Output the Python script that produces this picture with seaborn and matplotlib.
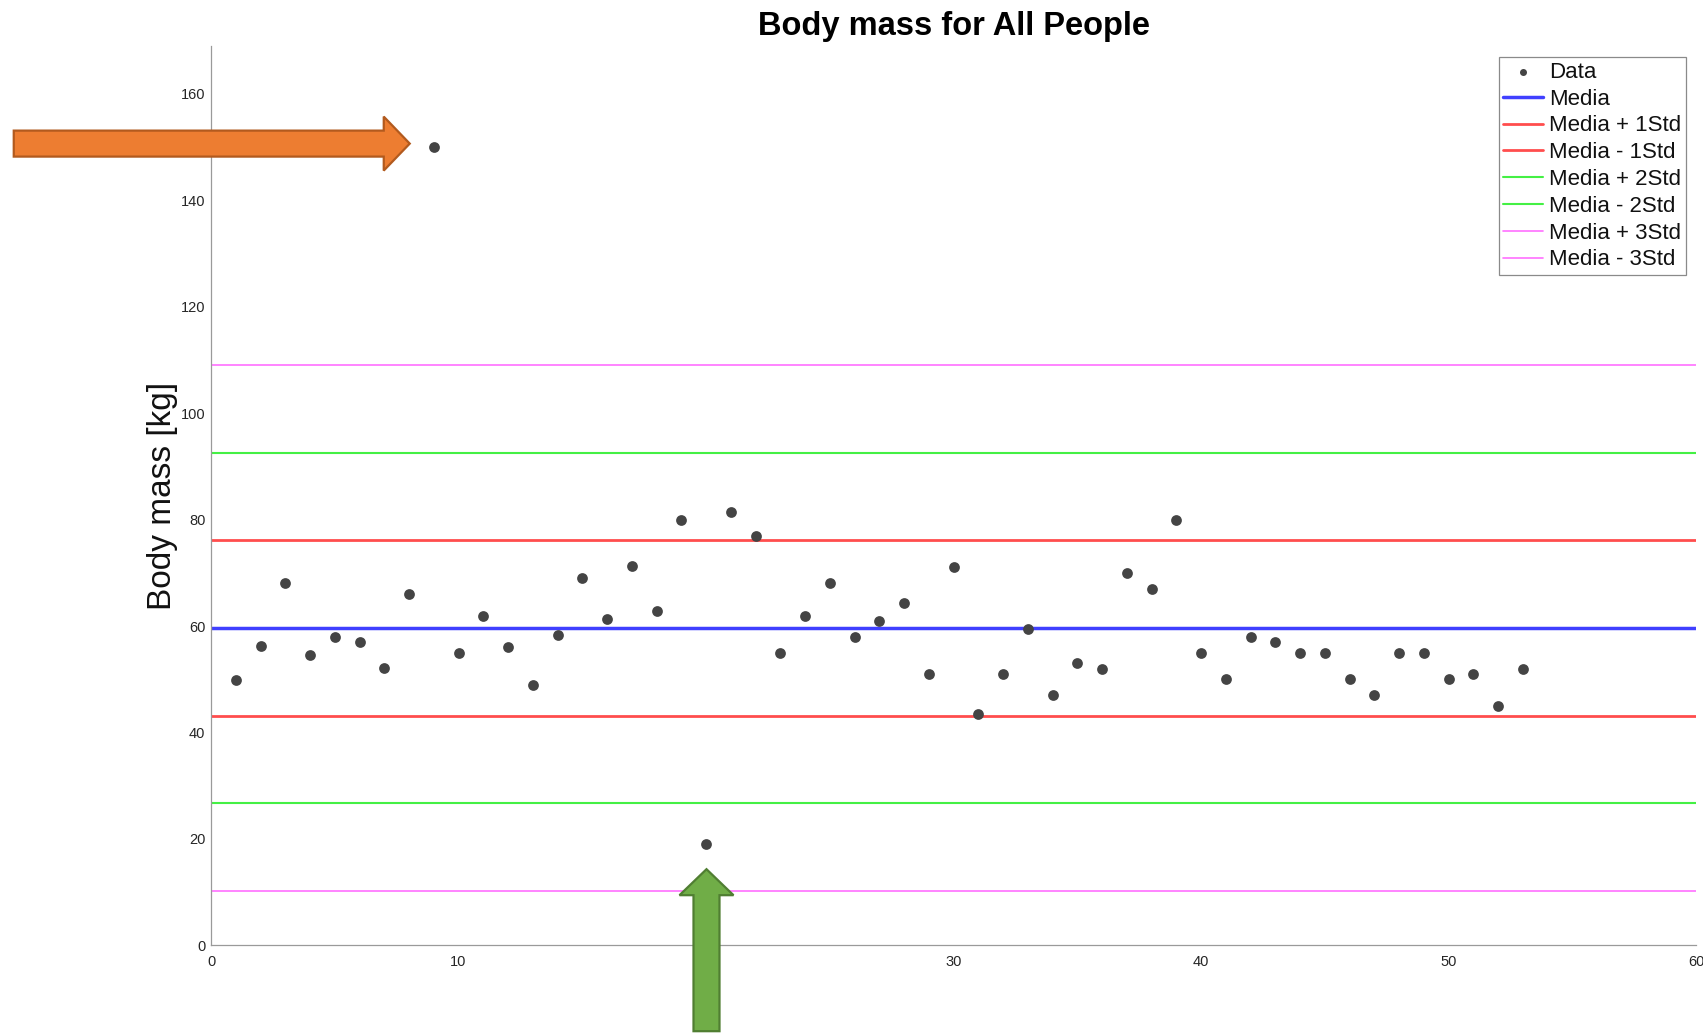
import numpy as np
import pandas as pd
import matplotlib
matplotlib.use("Agg")
import matplotlib.pyplot as plt
import seaborn as sns
from matplotlib.patches import Polygon
from matplotlib.transforms import IdentityTransform

# Body mass of each person, in the order they were measured
person = list(range(1, 54))
body_mass = [49.8, 56.3, 68.0, 54.5, 57.9, 57.0, 52.1, 66.0, 150.0, 55.0,
             61.9, 56.0, 48.9, 58.3, 69.0, 61.3, 71.2, 62.9, 80.0, 19.0,
             81.5, 76.9, 55.0, 61.9, 68.0, 57.9, 60.9, 64.4, 50.9, 71.1,
             43.5, 51.0, 59.5, 47.0, 53.1, 51.9, 70.0, 67.0, 80.0, 55.0,
             50.0, 58.0, 57.0, 55.0, 55.0, 50.0, 47.0, 55.0, 55.0, 50.0,
             51.0, 45.0, 51.9]

x_ticks = [0, 10, 20, 30, 40, 50, 60]
y_ticks = [0, 20, 40, 60, 80, 100, 120, 140, 160]
x_limits = (0, 60)
y_limits = (0, 169)

df = pd.DataFrame({"person": person, "mass": body_mass})
media = df["mass"].mean()
std = df["mass"].std(ddof=1)

# Reference lines: (label, number of std, colour, width)
bands = [
    ("Media", 0, "#4040ff", 2.5),
    ("Media + 1Std", 1, "#ff4d4d", 2.0),
    ("Media - 1Std", -1, "#ff4d4d", 2.0),
    ("Media + 2Std", 2, "#44f044", 1.5),
    ("Media - 2Std", -2, "#44f044", 1.5),
    ("Media + 3Std", 3, "#ff70ff", 1.2),
    ("Media - 3Std", -3, "#ff70ff", 1.2),
]

sns.set_style("white")
plt.rcParams["font.family"] = ["Liberation Sans", "DejaVu Sans"]

W, H = 1703, 1033
fig = plt.figure(figsize=(W / 100, H / 100), dpi=100)
ax = fig.add_axes([211 / W, 1 - 945.3 / H, (1696 - 211) / W, (945.3 - 46) / H])

sns.scatterplot(data=df, x="person", y="mass", ax=ax, color="#444444",
                s=60, linewidth=0, label="Data", zorder=3)
for label, k, color, lw in bands:
    ax.axhline(media + k * std, color=color, lw=lw, label=label, zorder=2)

ax.set_xlim(*x_limits)
ax.set_ylim(*y_limits)
ax.set_xticks(x_ticks)
ax.set_yticks(y_ticks)
ax.set_xlabel("")
ax.set_ylabel("Body mass [kg]", fontsize=24, color="#111111")
ax.yaxis.set_label_coords(-0.022, 0.5)
ax.set_title("Body mass for All People", fontsize=23.5, fontweight="bold",
             pad=8.2, color="black")

for side in ("top", "right"):
    ax.spines[side].set_visible(False)
for side in ("left", "bottom"):
    ax.spines[side].set_color("#9a9a9a")
    ax.spines[side].set_linewidth(0.9)

ax.tick_params(axis="both", direction="in", length=11, width=0.8,
               color="#8c8c8c", labelsize=10.5, labelcolor="#262626")
ax.tick_params(axis="y", pad=4)
ax.tick_params(axis="x", pad=7)

handles, labels = ax.get_legend_handles_labels()
leg = ax.legend(handles, labels, loc="upper right",
                bbox_to_anchor=(1685.7 / W, 1 - 57.5 / H),
                bbox_transform=fig.transFigure, borderaxespad=0,
                fontsize=16, frameon=True, fancybox=False, framealpha=1,
                edgecolor="#8a8a8a", handlelength=1.8, handletextpad=0.27,
                labelspacing=0.26, borderpad=0.2, markerscale=0.65)
leg.get_frame().set_linewidth(0.9)
for txt in leg.get_texts():
    txt.set_color("#111111")


def block_arrow(tip, direction, body_len, head_len=26, head_half=27,
                body_half=13, **style):
    """Outline of a block arrow in pixel units, tip first."""
    tx, ty = tip
    if direction == "right":
        pts = [(tx, ty), (tx - head_len, ty + head_half),
               (tx - head_len, ty + body_half),
               (tx - head_len - body_len, ty + body_half),
               (tx - head_len - body_len, ty - body_half),
               (tx - head_len, ty - body_half),
               (tx - head_len, ty - head_half)]
    else:  # pointing up
        pts = [(tx, ty), (tx + head_half, ty - head_len),
               (tx + body_half, ty - head_len),
               (tx + body_half, ty - head_len - body_len),
               (tx - body_half, ty - head_len - body_len),
               (tx - body_half, ty - head_len),
               (tx - head_half, ty - head_len)]
    poly = Polygon(pts, closed=True, transform=IdentityTransform(),
                   clip_on=False, joinstyle="miter", **style)
    fig.add_artist(poly)


# Arrows pointing at the heaviest and the lightest person
heavy = df.loc[df["mass"].idxmax()]
light = df.loc[df["mass"].idxmin()]
hx, hy = ax.transData.transform((heavy["person"], heavy["mass"]))
lx, ly = ax.transData.transform((light["person"], light["mass"]))

block_arrow((hx - 24, hy + 3.5), "right", body_len=370,
            facecolor="#ed7d31", edgecolor="#b25a1e", linewidth=1.6)
block_arrow((lx + 0.5, ly - 25), "up", body_len=136,
            facecolor="#70ad47", edgecolor="#507e32", linewidth=1.6)

fig.savefig("out.png", dpi=100)
